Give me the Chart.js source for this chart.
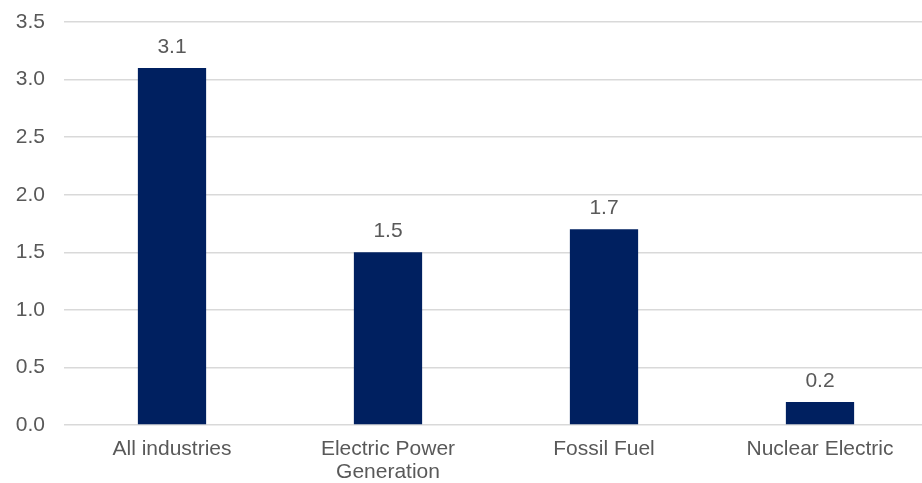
<!DOCTYPE html>
<html>
<head>
<meta charset="utf-8">
<script src="https://cdn.jsdelivr.net/npm/chart.js@4"></script>
<style>
  html, body { margin: 0; padding: 0; background: #ffffff; overflow: hidden; }
  #wrap { width: 928px; height: 483px; }
</style>
</head>
<body>
<div id="wrap"><canvas id="c" width="928" height="483"></canvas></div>
<script>
const categories = ["All industries", ["Electric Power", "Generation"], "Fossil Fuel", "Nuclear Electric"];
const values = [3.1, 1.5, 1.7, 0.2];
const yTicks = [0, 0.5, 1.0, 1.5, 2.0, 2.5, 3.0, 3.5];

const FONT = "'Liberation Sans', Arial, sans-serif";
const TEXT = "#595959";

const valueLabels = {
  id: "valueLabels",
  afterDatasetsDraw(chart) {
    const ctx = chart.ctx;
    const meta = chart.getDatasetMeta(0);
    ctx.save();
    ctx.font = "21px " + FONT;
    ctx.fillStyle = TEXT;
    ctx.textAlign = "center";
    ctx.textBaseline = "alphabetic";
    meta.data.forEach((bar, i) => {
      ctx.fillText(values[i].toFixed(1), bar.x, bar.y - 15);
    });
    ctx.restore();
  }
};

new Chart(document.getElementById("c"), {
  type: "bar",
  data: {
    labels: categories,
    datasets: [{
      data: values,
      backgroundColor: "#002060",
      barPercentage: 0.316,
      categoryPercentage: 1.0
    }]
  },
  options: {
    responsive: false,
    devicePixelRatio: 1,
    animation: false,
    layout: { padding: { top: 22, right: 0, bottom: 0, left: 0 } },
    plugins: { legend: { display: false }, tooltip: { enabled: false } },
    scales: {
      x: {
        grid: { display: false },
        border: { display: false },
        ticks: {
          color: TEXT,
          font: { family: FONT, size: 21, lineHeight: 1.12 },
          padding: 4,
          maxRotation: 0,
          autoSkip: false
        },
        afterFit(scale) { scale.height = 58; scale.paddingLeft = 0; scale.paddingRight = 0; }
      },
      y: {
        min: 0,
        max: 3.5,
        afterBuildTicks(scale) { scale.ticks = yTicks.map(v => ({ value: v })); },
        grid: { color: "#d9d9d9", lineWidth: 1.5, drawTicks: false },
        border: { display: false },
        ticks: {
          color: TEXT,
          font: { family: FONT, size: 21 },
          padding: 19,
          callback: v => Number(v).toFixed(1)
        },
        afterFit(scale) { scale.width = 64; scale.paddingTop = 0; scale.paddingBottom = 0; }
      }
    }
  },
  plugins: [valueLabels]
});
</script>
</body>
</html>
